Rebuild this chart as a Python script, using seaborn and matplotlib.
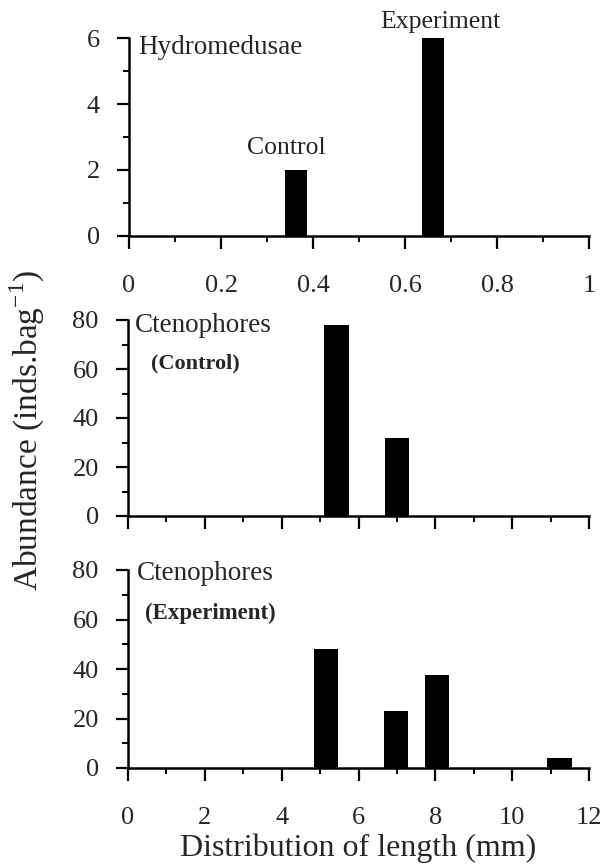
import numpy as np
import matplotlib
matplotlib.use("Agg")
import matplotlib.pyplot as plt
from matplotlib.ticker import MultipleLocator, FuncFormatter
import seaborn as sns

# data
hydro_len = [0.363, 0.661]
hydro_abund = [2, 6]
hydro_labels = ["Control", "Experiment"]

ctrl_len = [5.42, 7.0]
ctrl_abund = [78, 32]

exp_len = [5.15, 6.98, 8.04, 11.23]
exp_abund = [48, 23, 37.5, 4]

sns.set_style("ticks")
plt.rcParams["font.family"] = ["Liberation Serif", "DejaVu Serif"]
plt.rcParams["mathtext.fontset"] = "custom"
plt.rcParams["mathtext.rm"] = "Liberation Serif"


def draw_bars(ax, x, y, bar_w):
    # seaborn scales width by the smallest gap between positions (native scale)
    spacing = np.diff(np.sort(x)).min()
    sns.barplot(x=x, y=y, ax=ax, native_scale=True, orient="x",
                width=bar_w / spacing, color="black", saturation=1,
                errorbar=None, edgecolor="black", linewidth=0)


def style_axis(ax, xmax, xmaj, xmin_, ymax, ymaj, ymin_, show_xlabels=True):
    ax.set_xlim(0, xmax)
    ax.set_ylim(0, ymax)
    ax.xaxis.set_major_locator(MultipleLocator(xmaj))
    ax.xaxis.set_minor_locator(MultipleLocator(xmin_))
    ax.yaxis.set_major_locator(MultipleLocator(ymaj))
    ax.yaxis.set_minor_locator(MultipleLocator(ymin_))
    ax.xaxis.set_major_formatter(FuncFormatter(lambda v, p: "%g" % v))
    ax.yaxis.set_major_formatter(FuncFormatter(lambda v, p: "%g" % v))
    sns.despine(ax=ax)
    for s in ["left", "bottom"]:
        ax.spines[s].set_linewidth(1.8)
        ax.spines[s].set_color("black")
    ax.tick_params(axis="both", which="major", direction="out", length=9,
                   width=1.6, color="black", labelsize=19)
    ax.tick_params(axis="both", which="minor", direction="out", length=4.5,
                   width=1.4, color="black")
    ax.tick_params(axis="x", which="major", pad=19)
    ax.tick_params(axis="y", which="major", pad=12)
    if not show_xlabels:
        ax.tick_params(axis="x", labelbottom=False)
    ax.set_xlabel("")
    ax.set_ylabel("")


fig = plt.figure(figsize=(6.01, 8.68), dpi=100)
W, H = 601, 868


def add_ax(left, top, right, bottom):
    return fig.add_axes([left / W, 1 - bottom / H, (right - left) / W, (bottom - top) / H])


ax1 = add_ax(129, 38, 589, 236)
ax2 = add_ax(128, 320, 589, 516)
ax3 = add_ax(128, 570, 589, 768)

# Hydromedusae
draw_bars(ax1, hydro_len, hydro_abund, 0.046)
style_axis(ax1, 1, 0.2, 0.1, 6, 2, 1)
ax1.text(0.02, 0.95, "Hydromedusae", transform=ax1.transAxes,
         fontsize=19.5, va="center", ha="left")
ax1.text(0.343, 2.67, hydro_labels[0], fontsize=18.5, ha="center", va="center")
ax1.text(0.676, 6.48, hydro_labels[1], fontsize=18.5, ha="center", va="center",
         clip_on=False)

# Ctenophores control
draw_bars(ax2, ctrl_len, ctrl_abund, 0.64)
style_axis(ax2, 12, 2, 1, 80, 20, 10, show_xlabels=False)
ax2.text(0.015, 0.97, "Ctenophores", transform=ax2.transAxes,
         fontsize=19.5, va="center", ha="left")
ax2.text(0.05, 0.78, "(Control)", transform=ax2.transAxes,
         fontsize=16, fontweight="bold", va="center", ha="left")

# Ctenophores experiment
draw_bars(ax3, exp_len, exp_abund, 0.64)
style_axis(ax3, 12, 2, 1, 80, 20, 10)
ax3.text(0.02, 0.98, "Ctenophores", transform=ax3.transAxes,
         fontsize=19.5, va="center", ha="left")
ax3.text(0.037, 0.78, "(Experiment)", transform=ax3.transAxes,
         fontsize=16.5, fontweight="bold", va="center", ha="left")
ax3.set_xlabel("Distribution of length (mm)", fontsize=23, labelpad=3)

fig.text(0.045, 1 - 430 / H, r"Abundance (inds.bag$^{\mathregular{-1}}$)",
         rotation=90, fontsize=24, ha="center", va="center")

fig.savefig("out.png", dpi=100)
